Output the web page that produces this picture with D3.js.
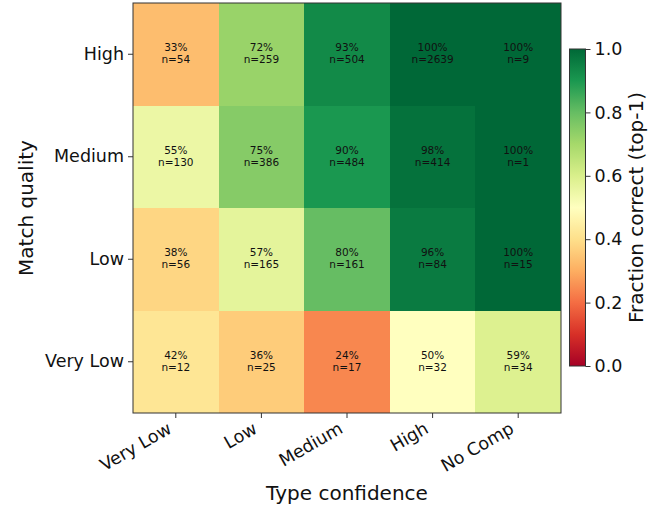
<!DOCTYPE html>
<html>
<head>
<meta charset="utf-8">
<script src="https://cdn.jsdelivr.net/npm/d3@7"></script>
<style>
  html, body { margin: 0; padding: 0; background: #fff; }
  svg { display: block; font-family: "DejaVu Sans", sans-serif; }
</style>
</head>
<body>
<svg id="chart" width="664" height="509"></svg>
<script>
// Accuracy grid: rows are match quality (top to bottom), columns are type confidence
const typeConfidence = ["Very Low", "Low", "Medium", "High", "No Comp"];
const matchQuality = ["High", "Medium", "Low", "Very Low"];
const fractionHigh = [0.33, 0.72, 0.93, 1.00, 1.00];
const fractionMedium = [0.55, 0.75, 0.90, 0.98, 1.00];
const fractionLow = [0.38, 0.57, 0.80, 0.96, 1.00];
const fractionVeryLow = [0.42, 0.36, 0.24, 0.50, 0.59];
const countHigh = [54, 259, 504, 2639, 9];
const countMedium = [130, 386, 484, 414, 1];
const countLow = [56, 165, 161, 84, 15];
const countVeryLow = [12, 25, 17, 32, 34];
const colorbarTicks = [0, 0.2, 0.4, 0.6, 0.8, 1.0];

const fractions = [fractionHigh, fractionMedium, fractionLow, fractionVeryLow];
const counts = [countHigh, countMedium, countLow, countVeryLow];

const cells = [];
matchQuality.forEach((mq, r) => {
  typeConfidence.forEach((tc, c) => {
    cells.push({ row: mq, col: tc, value: fractions[r][c], n: counts[r][c] });
  });
});

const svg = d3.select("#chart");
const plot = { left: 133, top: 3, right: 561, bottom: 413 };

const x = d3.scaleBand().domain(typeConfidence).range([plot.left, plot.right]).padding(0);
const y = d3.scaleBand().domain(matchQuality).range([plot.top, plot.bottom]).padding(0);

// RdYlGn as a linear ramp through the 11 ColorBrewer anchors
const rdylgn = d3.schemeRdYlGn[11];
const color = d3.scaleLinear()
  .domain(rdylgn.map((_, i) => i / (rdylgn.length - 1)))
  .range(rdylgn)
  .interpolate(d3.interpolateRgb)
  .clamp(true);

// Heatmap cells
svg.append("g").selectAll("rect").data(cells).join("rect")
  .attr("x", d => x(d.col))
  .attr("y", d => y(d.row))
  .attr("width", x.bandwidth())
  .attr("height", y.bandwidth())
  .attr("fill", d => color(d.value))
  .attr("shape-rendering", "crispEdges");

// Cell annotations
const ann = svg.append("g").attr("font-size", "10.5px").attr("fill", "#111").attr("text-anchor", "middle");
cells.forEach(d => {
  const cx = x(d.col) + x.bandwidth() / 2;
  const cy = y(d.row) + y.bandwidth() / 2;
  const t = ann.append("text").attr("x", cx).attr("y", cy);
  t.append("tspan").attr("x", cx).attr("dy", "-3").text(Math.round(d.value * 100) + "%");
  t.append("tspan").attr("x", cx).attr("dy", "12").text("n=" + d.n);
});

// Frame
svg.append("rect")
  .attr("x", plot.left).attr("y", plot.top)
  .attr("width", plot.right - plot.left).attr("height", plot.bottom - plot.top)
  .attr("fill", "none").attr("stroke", "#333").attr("stroke-width", 1);

// Y axis
const yAxis = svg.append("g")
  .attr("transform", `translate(${plot.left},0)`)
  .call(d3.axisLeft(y).tickSize(5).tickPadding(4));
yAxis.select(".domain").remove();
yAxis.selectAll("line").attr("stroke", "#333");
yAxis.selectAll("text").attr("font-size", "17.5px").attr("fill", "#111").attr("font-family", "DejaVu Sans, sans-serif");

// X axis with slanted labels
const xAxis = svg.append("g")
  .attr("transform", `translate(0,${plot.bottom})`)
  .call(d3.axisBottom(x).tickSize(5).tickPadding(4));
xAxis.select(".domain").remove();
xAxis.selectAll("line").attr("stroke", "#333");
xAxis.selectAll("text")
  .attr("font-size", "17.5px").attr("fill", "#111").attr("font-family", "DejaVu Sans, sans-serif")
  .attr("text-anchor", "end")
  .attr("dy", "0")
  .attr("y", 0)
  .attr("transform", "translate(-3,19) rotate(-30)");

// Axis titles
svg.append("text")
  .attr("x", (plot.left + plot.right) / 2).attr("y", 500)
  .attr("text-anchor", "middle").attr("font-size", "20px").attr("fill", "#111")
  .text("Type confidence");
svg.append("text")
  .attr("transform", `translate(33,${(plot.top + plot.bottom) / 2}) rotate(-90)`)
  .attr("text-anchor", "middle").attr("font-size", "20px").attr("fill", "#111")
  .text("Match quality");

// Colorbar
const cb = { x: 569.5, w: 16, top: 49, bottom: 366 };
const cbScale = d3.scaleLinear().domain([0, 1]).range([cb.bottom, cb.top]);
const grad = svg.append("defs").append("linearGradient")
  .attr("id", "cbgrad").attr("x1", 0).attr("y1", 1).attr("x2", 0).attr("y2", 0);
d3.range(0, 1.0001, 0.02).forEach(t => {
  grad.append("stop").attr("offset", t).attr("stop-color", color(t));
});
svg.append("rect")
  .attr("x", cb.x).attr("y", cb.top).attr("width", cb.w).attr("height", cb.bottom - cb.top)
  .attr("fill", "url(#cbgrad)").attr("stroke", "#333").attr("stroke-width", 1);
const cbAxis = svg.append("g")
  .attr("transform", `translate(${cb.x + cb.w},0)`)
  .call(d3.axisRight(cbScale).tickValues(colorbarTicks).tickFormat(d3.format(".1f")).tickSize(5).tickPadding(4));
cbAxis.select(".domain").remove();
cbAxis.selectAll("line").attr("stroke", "#333");
cbAxis.selectAll("text").attr("font-size", "17.5px").attr("fill", "#111").attr("font-family", "DejaVu Sans, sans-serif");
svg.append("text")
  .attr("transform", `translate(643,${(cb.top + cb.bottom) / 2}) rotate(-90)`)
  .attr("text-anchor", "middle").attr("font-size", "20px").attr("fill", "#111")
  .text("Fraction correct (top-1)");
</script>
</body>
</html>
